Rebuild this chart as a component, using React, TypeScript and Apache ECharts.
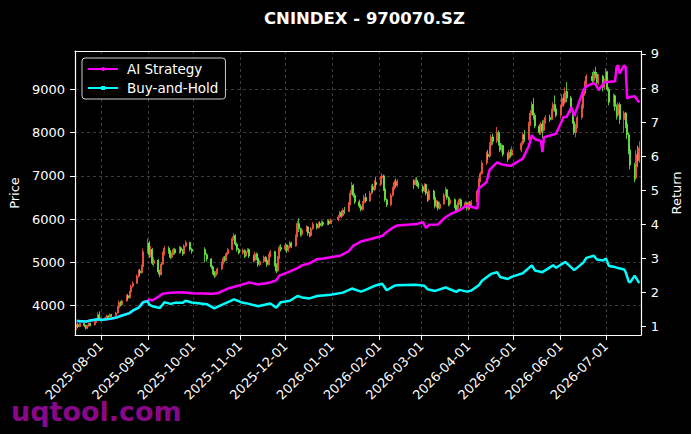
import React, { useEffect, useRef } from "react";
import * as echarts from "echarts";

const TITLE = "CNINDEX - 970070.SZ";
const WATERMARK = "uqtool.com";
const X_TICKS = [
  "2025-08-01", "2025-09-01", "2025-10-01", "2025-11-01", "2025-12-01", "2026-01-01",
  "2026-02-01", "2026-03-01", "2026-04-01", "2026-05-01", "2026-06-01", "2026-07-01",
];
const PRICE_TICKS = [4000, 5000, 6000, 7000, 8000, 9000];
const RETURN_TICKS = [1, 2, 3, 4, 5, 6, 7, 8, 9];

// [date, open, close, low, high]
const candles: [string, number, number, number, number][] = [
  ["2025-07-16", 3500, 3560, 3440, 3590], ["2025-07-17", 3560, 3520, 3480, 3600], ["2025-07-18", 3520, 3590, 3500, 3620],
  ["2025-07-21", 3590, 3540, 3500, 3610], ["2025-07-22", 3540, 3480, 3450, 3560], ["2025-07-23", 3480, 3530, 3460, 3560],
  ["2025-07-24", 3530, 3590, 3510, 3620], ["2025-07-25", 3590, 3560, 3520, 3610], ["2025-07-28", 3560, 3620, 3540, 3650],
  ["2025-07-29", 3620, 3680, 3600, 3720], ["2025-07-30", 3680, 3790, 3660, 3850], ["2025-07-31", 3790, 3700, 3680, 3870],
  ["2025-08-01", 3700, 3680, 3640, 3730], ["2025-08-04", 3680, 3720, 3660, 3750], ["2025-08-05", 3720, 3760, 3700, 3790],
  ["2025-08-06", 3760, 3740, 3710, 3780], ["2025-08-07", 3740, 3790, 3720, 3820], ["2025-08-08", 3790, 3770, 3740, 3810],
  ["2025-08-11", 3770, 3830, 3750, 3860], ["2025-08-12", 3830, 3950, 3810, 3990], ["2025-08-13", 3950, 4080, 3930, 4120],
  ["2025-08-14", 4080, 4020, 3980, 4110], ["2025-08-15", 4020, 4110, 4000, 4140], ["2025-08-18", 4110, 4230, 4090, 4260],
  ["2025-08-19", 4230, 4180, 4140, 4270], ["2025-08-20", 4180, 4320, 4160, 4350], ["2025-08-21", 4320, 4450, 4300, 4490],
  ["2025-08-22", 4450, 4520, 4420, 4560], ["2025-08-25", 4520, 4680, 4500, 4720], ["2025-08-26", 4680, 4800, 4650, 4840],
  ["2025-08-27", 4800, 4760, 4700, 4850], ["2025-08-28", 4760, 4900, 4740, 4950], ["2025-08-29", 4900, 5250, 4880, 5320],
  ["2025-09-01", 5250, 5450, 5200, 5550], ["2025-09-02", 5450, 5180, 5100, 5500], ["2025-09-03", 5180, 5300, 5120, 5380],
  ["2025-09-04", 5300, 4980, 4940, 5330], ["2025-09-05", 4980, 5050, 4900, 5120], ["2025-09-08", 5050, 4780, 4720, 5080],
  ["2025-09-09", 4780, 4720, 4660, 4830], ["2025-09-10", 4720, 4960, 4700, 5000], ["2025-09-11", 4960, 5200, 4940, 5250],
  ["2025-09-12", 5200, 5330, 5160, 5380], ["2025-09-15", 5330, 5260, 5200, 5370], ["2025-09-16", 5260, 5120, 5080, 5290],
  ["2025-09-17", 5120, 5200, 5090, 5240], ["2025-09-18", 5200, 5300, 5170, 5340], ["2025-09-19", 5300, 5220, 5180, 5330],
  ["2025-09-22", 5220, 5340, 5200, 5380], ["2025-09-23", 5340, 5280, 5230, 5370], ["2025-09-24", 5280, 5200, 5150, 5310],
  ["2025-09-25", 5200, 5380, 5180, 5420], ["2025-09-26", 5380, 5460, 5350, 5510], ["2025-09-29", 5460, 5300, 5260, 5480],
  ["2025-09-30", 5300, 5260, 5200, 5340],
  ["2025-10-09", 5300, 5180, 5000, 5350], ["2025-10-10", 5180, 5080, 5020, 5220], ["2025-10-13", 5080, 4900, 4850, 5100],
  ["2025-10-14", 4900, 4780, 4720, 4930], ["2025-10-15", 4780, 4700, 4640, 4800], ["2025-10-16", 4700, 4760, 4660, 4800],
  ["2025-10-17", 4760, 4850, 4720, 4880], ["2025-10-20", 4850, 4980, 4820, 5020], ["2025-10-21", 4980, 5100, 4950, 5140],
  ["2025-10-22", 5100, 5050, 5000, 5150], ["2025-10-23", 5050, 5200, 5030, 5240], ["2025-10-24", 5200, 5300, 5160, 5330],
  ["2025-10-27", 5300, 5550, 5280, 5600], ["2025-10-28", 5550, 5620, 5500, 5680], ["2025-10-29", 5620, 5420, 5380, 5650],
  ["2025-10-30", 5420, 5300, 5250, 5460], ["2025-10-31", 5300, 5220, 5180, 5330],
  ["2025-11-03", 5220, 5280, 5180, 5320], ["2025-11-04", 5280, 5150, 5100, 5300], ["2025-11-05", 5150, 5250, 5120, 5290],
  ["2025-11-06", 5250, 5300, 5220, 5330], ["2025-11-07", 5300, 5150, 5100, 5320], ["2025-11-10", 5150, 5050, 5000, 5180],
  ["2025-11-11", 5050, 5200, 5020, 5250], ["2025-11-12", 5200, 5100, 5050, 5230], ["2025-11-13", 5100, 4950, 4900, 5120],
  ["2025-11-14", 4950, 5020, 4920, 5060], ["2025-11-17", 5020, 5120, 4990, 5160], ["2025-11-18", 5120, 5050, 5000, 5150],
  ["2025-11-19", 5050, 4950, 4900, 5080], ["2025-11-20", 4950, 5150, 4930, 5200], ["2025-11-21", 5150, 5250, 5120, 5290],
  ["2025-11-24", 5250, 4950, 4900, 5270], ["2025-11-25", 4950, 4800, 4750, 4980], ["2025-11-26", 4800, 5100, 4780, 5150],
  ["2025-11-27", 5100, 5350, 5080, 5400], ["2025-11-28", 5350, 5300, 5250, 5420],
  ["2025-12-01", 5300, 5400, 5260, 5450], ["2025-12-02", 5400, 5280, 5220, 5420], ["2025-12-03", 5280, 5350, 5240, 5390],
  ["2025-12-04", 5350, 5450, 5320, 5500], ["2025-12-05", 5450, 5380, 5330, 5480], ["2025-12-08", 5380, 5600, 5360, 5650],
  ["2025-12-09", 5600, 5900, 5580, 5960], ["2025-12-10", 5900, 5780, 5700, 6020], ["2025-12-11", 5780, 5650, 5600, 5800],
  ["2025-12-12", 5650, 5750, 5600, 5800], ["2025-12-15", 5750, 5820, 5700, 5860], ["2025-12-16", 5820, 5680, 5620, 5840],
  ["2025-12-17", 5680, 5620, 5580, 5700], ["2025-12-18", 5620, 5780, 5600, 5820], ["2025-12-19", 5780, 5880, 5750, 5930],
  ["2025-12-22", 5880, 5800, 5760, 5910], ["2025-12-23", 5800, 5900, 5780, 5940], ["2025-12-24", 5900, 5850, 5820, 5950],
  ["2025-12-25", 5850, 5920, 5820, 5970], ["2025-12-26", 5920, 5880, 5840, 5960], ["2025-12-29", 5880, 5950, 5860, 6000],
  ["2025-12-30", 5950, 5900, 5860, 5990], ["2025-12-31", 5900, 5980, 5880, 6020],
  ["2026-01-05", 5980, 6050, 5950, 6100], ["2026-01-06", 6050, 6150, 6020, 6190], ["2026-01-07", 6150, 6080, 6030, 6200],
  ["2026-01-08", 6080, 6200, 6060, 6250], ["2026-01-09", 6200, 6180, 6120, 6280], ["2026-01-12", 6180, 6350, 6160, 6400],
  ["2026-01-13", 6350, 6600, 6320, 6680], ["2026-01-14", 6600, 6780, 6560, 6860], ["2026-01-15", 6780, 6550, 6500, 6820],
  ["2026-01-16", 6550, 6400, 6350, 6600], ["2026-01-19", 6400, 6300, 6250, 6450], ["2026-01-20", 6300, 6220, 6180, 6350],
  ["2026-01-21", 6220, 6380, 6200, 6420], ["2026-01-22", 6380, 6500, 6350, 6560], ["2026-01-23", 6500, 6420, 6380, 6600],
  ["2026-01-26", 6420, 6600, 6400, 6650], ["2026-01-27", 6600, 6750, 6570, 6800], ["2026-01-28", 6750, 6680, 6620, 6820],
  ["2026-01-29", 6680, 6850, 6650, 6900], ["2026-01-30", 6850, 6800, 6740, 6970],
  ["2026-02-02", 6800, 6950, 6760, 7000], ["2026-02-03", 6950, 7000, 6900, 7060], ["2026-02-04", 7000, 6700, 6650, 7030],
  ["2026-02-05", 6700, 6450, 6400, 6730], ["2026-02-06", 6450, 6330, 6280, 6480], ["2026-02-09", 6330, 6550, 6300, 6600],
  ["2026-02-10", 6550, 6700, 6520, 6750], ["2026-02-11", 6700, 6850, 6680, 6900], ["2026-02-12", 6850, 6780, 6720, 6940],
  ["2026-02-13", 6780, 6880, 6750, 6920],
  ["2026-02-24", 6880, 6800, 6700, 6920], ["2026-02-25", 6800, 6900, 6780, 6960], ["2026-02-26", 6900, 6820, 6760, 6970],
  ["2026-02-27", 6820, 6750, 6700, 6860],
  ["2026-03-02", 6750, 6650, 6600, 6800], ["2026-03-03", 6650, 6800, 6620, 6830], ["2026-03-04", 6800, 6600, 6550, 6820],
  ["2026-03-05", 6600, 6450, 6400, 6640], ["2026-03-06", 6450, 6650, 6420, 6700], ["2026-03-09", 6650, 6500, 6450, 6680],
  ["2026-03-10", 6500, 6300, 6250, 6520], ["2026-03-11", 6300, 6400, 6260, 6450], ["2026-03-12", 6400, 6250, 6200, 6430],
  ["2026-03-13", 6250, 6350, 6220, 6400], ["2026-03-16", 6350, 6550, 6330, 6600], ["2026-03-17", 6550, 6680, 6520, 6740],
  ["2026-03-18", 6680, 6500, 6450, 6700], ["2026-03-19", 6500, 6350, 6300, 6530], ["2026-03-20", 6350, 6450, 6300, 6500],
  ["2026-03-23", 6450, 6300, 6250, 6480], ["2026-03-24", 6300, 6200, 6160, 6330], ["2026-03-25", 6200, 6350, 6180, 6400],
  ["2026-03-26", 6350, 6450, 6320, 6490], ["2026-03-27", 6450, 6300, 6250, 6470], ["2026-03-30", 6300, 6380, 6270, 6420],
  ["2026-03-31", 6380, 6250, 6200, 6400],
  ["2026-04-01", 6250, 6350, 6200, 6400], ["2026-04-02", 6350, 6280, 6220, 6420], ["2026-04-03", 6280, 6400, 6250, 6440],
  ["2026-04-07", 6400, 6650, 6380, 6700], ["2026-04-08", 6650, 6900, 6620, 6950], ["2026-04-09", 6900, 7050, 6850, 7100],
  ["2026-04-10", 7050, 7300, 7020, 7350], ["2026-04-13", 7300, 7500, 7250, 7560], ["2026-04-14", 7500, 7450, 7380, 7600],
  ["2026-04-15", 7450, 7700, 7420, 7780], ["2026-04-16", 7700, 7900, 7650, 7960], ["2026-04-17", 7900, 7800, 7720, 7980],
  ["2026-04-20", 7800, 8000, 7760, 8130], ["2026-04-21", 8000, 7750, 7700, 8050], ["2026-04-22", 7750, 7600, 7550, 7800],
  ["2026-04-23", 7600, 7700, 7540, 7750], ["2026-04-24", 7700, 7500, 7450, 7720], ["2026-04-27", 7500, 7400, 7320, 7540],
  ["2026-04-28", 7400, 7550, 7370, 7600], ["2026-04-29", 7550, 7480, 7420, 7620], ["2026-04-30", 7480, 7600, 7450, 7680],
  ["2026-05-06", 7600, 7750, 7550, 7800], ["2026-05-07", 7750, 7950, 7700, 8000], ["2026-05-08", 7950, 7850, 7780, 8060],
  ["2026-05-11", 7850, 8200, 7820, 8250], ["2026-05-12", 8200, 8450, 8150, 8520], ["2026-05-13", 8450, 8650, 8400, 8720],
  ["2026-05-14", 8650, 8400, 8300, 8800], ["2026-05-15", 8400, 8150, 8100, 8450], ["2026-05-18", 8150, 8000, 7950, 8200],
  ["2026-05-19", 8000, 8200, 7950, 8250], ["2026-05-20", 8200, 8050, 7870, 8280], ["2026-05-21", 8050, 8250, 8020, 8300],
  ["2026-05-22", 8250, 8350, 8200, 8400], ["2026-05-25", 8350, 8300, 8240, 8420], ["2026-05-26", 8300, 8500, 8280, 8560],
  ["2026-05-27", 8500, 8650, 8450, 8700], ["2026-05-28", 8650, 8550, 8480, 8860], ["2026-05-29", 8550, 8400, 8350, 8600],
  ["2026-06-01", 8400, 8600, 8350, 8650], ["2026-06-02", 8600, 8800, 8550, 8880], ["2026-06-03", 8800, 8700, 8600, 8900],
  ["2026-06-04", 8700, 8950, 8650, 9050], ["2026-06-05", 8950, 8800, 8700, 9170], ["2026-06-08", 8800, 8500, 8450, 8850],
  ["2026-06-09", 8500, 8250, 8200, 8550], ["2026-06-10", 8250, 8000, 7950, 8300], ["2026-06-11", 8000, 8150, 7890, 8200],
  ["2026-06-12", 8150, 8350, 8100, 8400], ["2026-06-15", 8350, 8600, 8300, 8650], ["2026-06-16", 8600, 8900, 8550, 8950],
  ["2026-06-17", 8900, 9150, 8850, 9200], ["2026-06-18", 9150, 9300, 9100, 9350], ["2026-06-22", 9300, 9200, 9100, 9400],
  ["2026-06-23", 9200, 9400, 9150, 9450], ["2026-06-24", 9400, 9350, 9250, 9520], ["2026-06-25", 9350, 9150, 9050, 9400],
  ["2026-06-26", 9150, 9300, 9100, 9350], ["2026-06-29", 9300, 9050, 8950, 9330], ["2026-06-30", 9050, 9200, 9000, 9250],
  ["2026-07-01", 9200, 9400, 9150, 9490], ["2026-07-02", 9400, 9000, 8950, 9420], ["2026-07-03", 9000, 8700, 8630, 9050],
  ["2026-07-06", 8700, 8850, 8600, 8900], ["2026-07-07", 8850, 8600, 8500, 8880], ["2026-07-08", 8600, 8400, 8300, 8650],
  ["2026-07-09", 8400, 8650, 8350, 8700], ["2026-07-10", 8650, 8300, 8200, 8700], ["2026-07-13", 8300, 8450, 8000, 8500],
  ["2026-07-14", 8450, 8200, 8100, 8480], ["2026-07-15", 8200, 7950, 7850, 8250], ["2026-07-16", 7950, 7600, 7500, 8000],
  ["2026-07-17", 7600, 7250, 7150, 7650], ["2026-07-20", 7250, 6950, 6850, 7300], ["2026-07-21", 6950, 7500, 6900, 7600],
  ["2026-07-22", 7500, 7350, 7200, 7700], ["2026-07-23", 7350, 7650, 7300, 7800],
];

const aiStrategy: [string, number][] = [
  ["2025-07-16", 1.17], ["2025-07-22", 1.15], ["2025-07-25", 1.18], ["2025-07-30", 1.22], ["2025-08-01", 1.2],
  ["2025-08-07", 1.23], ["2025-08-12", 1.28], ["2025-08-15", 1.33], ["2025-08-20", 1.4], ["2025-08-22", 1.47],
  ["2025-08-26", 1.56], ["2025-08-29", 1.72], ["2025-09-01", 1.76], ["2025-09-02", 1.8], ["2025-09-04", 1.77],
  ["2025-09-08", 1.88], ["2025-09-11", 1.97], ["2025-09-16", 2.0], ["2025-09-24", 2.01], ["2025-09-30", 1.98],
  ["2025-10-14", 1.97], ["2025-10-17", 1.98], ["2025-10-21", 2.06], ["2025-10-24", 2.12], ["2025-10-29", 2.18],
  ["2025-11-05", 2.27], ["2025-11-07", 2.3], ["2025-11-13", 2.24], ["2025-11-21", 2.3], ["2025-11-25", 2.36],
  ["2025-11-27", 2.5], ["2025-12-03", 2.6], ["2025-12-09", 2.72], ["2025-12-12", 2.8], ["2025-12-17", 2.86],
  ["2025-12-22", 2.98], ["2025-12-26", 3.0], ["2026-01-06", 3.08], ["2026-01-12", 3.22], ["2026-01-15", 3.38],
  ["2026-01-20", 3.5], ["2026-01-27", 3.58], ["2026-02-03", 3.66], ["2026-02-05", 3.74], ["2026-02-10", 3.9],
  ["2026-02-13", 3.97], ["2026-02-26", 4.01], ["2026-03-02", 4.07], ["2026-03-04", 3.9], ["2026-03-06", 3.99],
  ["2026-03-12", 4.0], ["2026-03-16", 4.18], ["2026-03-20", 4.3], ["2026-03-25", 4.4], ["2026-03-31", 4.55],
  ["2026-04-03", 4.52], ["2026-04-07", 4.47], ["2026-04-08", 5.06], ["2026-04-13", 5.24], ["2026-04-15", 5.6],
  ["2026-04-20", 5.82], ["2026-04-24", 5.75], ["2026-04-29", 5.72], ["2026-05-07", 5.93], ["2026-05-11", 6.3],
  ["2026-05-13", 6.62], ["2026-05-15", 6.5], ["2026-05-19", 6.45], ["2026-05-20", 6.12], ["2026-05-21", 6.56],
  ["2026-05-29", 6.66], ["2026-06-03", 7.15], ["2026-06-05", 7.15], ["2026-06-08", 7.44], ["2026-06-10", 7.18],
  ["2026-06-16", 7.94], ["2026-06-18", 8.05], ["2026-06-23", 8.15], ["2026-06-25", 8.05], ["2026-06-26", 7.94],
  ["2026-06-30", 8.17], ["2026-07-07", 8.2], ["2026-07-08", 8.62], ["2026-07-09", 8.67], ["2026-07-10", 8.43],
  ["2026-07-13", 8.67], ["2026-07-14", 8.62], ["2026-07-15", 7.7], ["2026-07-17", 7.74], ["2026-07-20", 7.76],
  ["2026-07-23", 7.58],
];

const buyHold: [string, number][] = [
  ["2025-07-16", 1.17], ["2025-07-22", 1.15], ["2025-07-25", 1.18], ["2025-07-30", 1.22], ["2025-08-01", 1.2],
  ["2025-08-07", 1.23], ["2025-08-12", 1.28], ["2025-08-15", 1.33], ["2025-08-20", 1.4], ["2025-08-22", 1.47],
  ["2025-08-26", 1.56], ["2025-08-29", 1.72], ["2025-09-01", 1.75], ["2025-09-02", 1.65], ["2025-09-04", 1.6],
  ["2025-09-09", 1.55], ["2025-09-12", 1.72], ["2025-09-16", 1.67], ["2025-09-19", 1.7], ["2025-09-24", 1.7],
  ["2025-09-26", 1.76], ["2025-09-30", 1.71], ["2025-10-10", 1.66], ["2025-10-15", 1.54], ["2025-10-17", 1.58],
  ["2025-10-21", 1.66], ["2025-10-24", 1.72], ["2025-10-28", 1.8], ["2025-11-03", 1.7], ["2025-11-07", 1.67],
  ["2025-11-13", 1.6], ["2025-11-21", 1.68], ["2025-11-25", 1.56], ["2025-11-28", 1.72], ["2025-12-04", 1.76],
  ["2025-12-09", 1.9], ["2025-12-12", 1.86], ["2025-12-17", 1.83], ["2025-12-22", 1.9], ["2025-12-31", 1.94],
  ["2026-01-08", 2.0], ["2026-01-14", 2.12], ["2026-01-20", 2.03], ["2026-01-23", 2.08], ["2026-01-29", 2.2],
  ["2026-02-03", 2.26], ["2026-02-06", 2.07], ["2026-02-11", 2.2], ["2026-02-13", 2.22], ["2026-02-25", 2.23],
  ["2026-03-03", 2.2], ["2026-03-05", 2.1], ["2026-03-10", 2.05], ["2026-03-17", 2.15], ["2026-03-24", 2.02],
  ["2026-03-26", 2.08], ["2026-03-31", 2.03], ["2026-04-03", 2.06], ["2026-04-08", 2.22], ["2026-04-10", 2.35],
  ["2026-04-16", 2.55], ["2026-04-20", 2.6], ["2026-04-22", 2.46], ["2026-04-27", 2.4], ["2026-04-30", 2.47],
  ["2026-05-07", 2.57], ["2026-05-13", 2.8], ["2026-05-15", 2.65], ["2026-05-20", 2.6], ["2026-05-27", 2.8],
  ["2026-05-29", 2.73], ["2026-06-04", 2.9], ["2026-06-10", 2.66], ["2026-06-16", 2.88], ["2026-06-18", 3.02],
  ["2026-06-23", 3.08], ["2026-06-25", 2.97], ["2026-06-29", 2.94], ["2026-07-01", 3.0], ["2026-07-03", 2.78],
  ["2026-07-07", 2.75], ["2026-07-09", 2.72], ["2026-07-13", 2.68], ["2026-07-14", 2.6], ["2026-07-16", 2.33],
  ["2026-07-17", 2.3], ["2026-07-20", 2.5], ["2026-07-22", 2.35], ["2026-07-23", 2.28],
];

const toTime = (s: string) => {
  const [y, m, d] = s.split("-").map(Number);
  return new Date(y, m - 1, d).getTime();
};
const pad = (n: number) => (n < 10 ? "0" + n : "" + n);
const fmtDate = (v: number) => {
  const d = new Date(v);
  return `${d.getFullYear()}-${pad(d.getMonth() + 1)}-${pad(d.getDate())}`;
};

const FONT = "DejaVu Sans";
const UP = "#ff5a44";
const DOWN = "#6ef046";

export default function App() {
  const ref = useRef<HTMLDivElement>(null);
  useEffect(() => {
    document.body.style.margin = "0";
    document.body.style.background = "#000";
    if (!ref.current) return;
    const chart = echarts.init(ref.current, undefined, { renderer: "svg" });
    const xTickTimes = X_TICKS.map(toTime);
    const xMin = new Date(2025, 6, 14, 21).getTime();
    const xMax = new Date(2026, 6, 24, 1).getTime();
    const splitStyle = { color: "#4a4a4a", width: 0.8, type: [3, 3] as number[] };
    chart.setOption({
      animation: false,
      backgroundColor: "#000",
      title: {
        text: TITLE,
        left: 259,
        top: 5,
        textStyle: { color: "#fff", fontSize: 16.5, fontWeight: "bold", fontFamily: FONT },
      },
      legend: {
        orient: "vertical",
        left: 82,
        top: 58,
        itemWidth: 30,
        itemHeight: 5,
        itemGap: 5,
        padding: [4, 7, 4, 5],
        backgroundColor: "#000",
        borderColor: "#cccccc",
        borderWidth: 1,
        borderRadius: 3,
        textStyle: { color: "#fff", fontSize: 13.5, fontFamily: FONT, padding: [0, 0, 0, 4] },
        data: ["AI Strategy", "Buy-and-Hold"],
      },
      grid: {
        left: 75,
        right: 48,
        top: 51,
        bottom: 99,
        show: false,
      },
      xAxis: [
        {
          type: "value",
          min: xMin,
          max: xMax,
          position: "bottom",
          axisLine: { show: true, lineStyle: { color: "#fff", width: 1.2 } },
          axisTick: { show: true, length: 5, lineStyle: { color: "#fff" }, customValues: xTickTimes },
          axisLabel: {
            color: "#fff",
            fontSize: 13,
            fontFamily: FONT,
            rotate: 45,
            margin: 9,
            customValues: xTickTimes,
            formatter: (v: number) => fmtDate(v),
          },
          splitLine: { show: true, lineStyle: splitStyle },
        },
        {
          type: "value",
          min: xMin,
          max: xMax,
          position: "top",
          axisLine: { show: true, onZero: false, lineStyle: { color: "#fff", width: 1.2 } },
          axisTick: { show: false },
          axisLabel: { show: false },
          splitLine: { show: false },
        },
      ],
      yAxis: [
        {
          type: "value",
          min: 3323,
          max: 9885,
          position: "left",
          name: "Price",
          nameLocation: "middle",
          nameGap: 52,
          nameTextStyle: { color: "#fff", fontSize: 13, fontFamily: FONT },
          axisLine: { show: true, lineStyle: { color: "#fff", width: 1.2 } },
          axisTick: { show: true, length: 5, lineStyle: { color: "#fff" }, customValues: PRICE_TICKS },
          axisLabel: {
            color: "#fff",
            fontSize: 13,
            fontFamily: FONT,
            margin: 10,
            customValues: PRICE_TICKS,
            formatter: (v: number) => String(v),
          },
          splitLine: { show: true, lineStyle: splitStyle },
        },
        {
          type: "value",
          min: 0.757,
          max: 9.088,
          position: "right",
          name: "Return",
          nameLocation: "middle",
          nameGap: 26,
          nameTextStyle: { color: "#fff", fontSize: 13, fontFamily: FONT },
          axisLine: { show: true, lineStyle: { color: "#fff", width: 1.2 } },
          axisTick: { show: true, length: 5, lineStyle: { color: "#fff" }, customValues: RETURN_TICKS },
          axisLabel: {
            color: "#fff",
            fontSize: 13,
            fontFamily: FONT,
            margin: 10,
            customValues: RETURN_TICKS,
            formatter: (v: number) => String(v),
          },
          splitLine: { show: false },
        },
      ],
      graphic: [
        {
          type: "text",
          left: 11,
          top: 398,
          z: -10,
          style: { text: WATERMARK, fill: "#880888", font: `bold 27px "${FONT}"` },
        },
      ],
      series: [
        {
          name: "Price",
          type: "candlestick",
          xAxisIndex: 0,
          yAxisIndex: 0,
          barWidth: 1.5,
          encode: { x: 0, y: [1, 2, 3, 4] },
          data: candles.map((c) => [toTime(c[0]), c[1], c[2], c[3], c[4]]),
          itemStyle: { color: UP, color0: DOWN, borderColor: UP, borderColor0: DOWN, borderWidth: 0.8 },
        },
        {
          name: "AI Strategy",
          type: "line",
          yAxisIndex: 1,
          symbol: "circle",
          showSymbol: false,
          color: "#ff00ff",
          lineStyle: { color: "#ff00ff", width: 2.5 },
          data: aiStrategy.map((p) => [toTime(p[0]), p[1]]),
          z: 3,
        },
        {
          name: "Buy-and-Hold",
          type: "line",
          yAxisIndex: 1,
          symbol: "rect",
          showSymbol: false,
          color: "#00ffff",
          lineStyle: { color: "#00ffff", width: 2.5 },
          data: buyHold.map((p) => [toTime(p[0]), p[1]]),
          z: 4,
        },
      ],
    });
    return () => chart.dispose();
  }, []);
  return <div ref={ref} style={{ width: 691, height: 434 }} />;
}
